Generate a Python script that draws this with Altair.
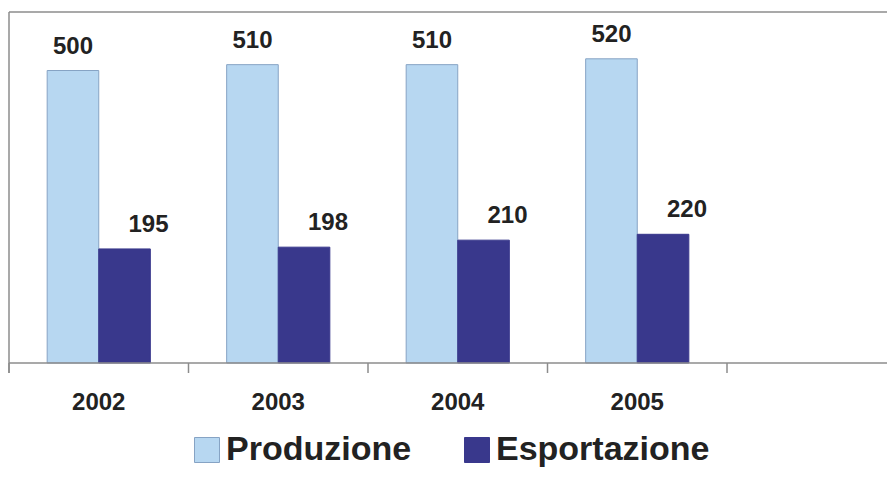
import altair as alt
import pandas as pd

# ---- data ----
YEARS = ["2002", "2003", "2004", "2005"]
SLOTS = YEARS + [" "]  # one empty category slot on the right
SERIES = ["Produzione", "Esportazione"]
PRODUZIONE = [500, 510, 510, 520]
ESPORTAZIONE = [195, 198, 210, 220]

COLORS = ["#b7d7f1", "#39388c"]
STROKES = ["#86a3c4", "#39388c"]

rows = []
for i, y in enumerate(YEARS):
    rows.append({"year": y, "series": SERIES[0], "value": PRODUZIONE[i]})
    rows.append({"year": y, "series": SERIES[1], "value": ESPORTAZIONE[i]})
df = pd.DataFrame(rows)
slots_df = pd.DataFrame({"year": SLOTS})

WIDTH = 878
HEIGHT = 351
FONT = "Liberation Sans"
LINE = "#8c8c8c"

xscale = alt.Scale(domain=SLOTS, range=[0, 897.5], paddingInner=0, paddingOuter=0)
yscale = alt.Scale(domain=[0, 600])
off_scale = alt.Scale(domain=SERIES, paddingInner=0, paddingOuter=0.74)

base = alt.Chart(df)

bars = base.mark_bar(strokeWidth=1).encode(
    x=alt.X("year:N", scale=xscale, sort=SLOTS, title=None,
            axis=alt.Axis(domain=False, ticks=False, labelAngle=0,
                          labelFont=FONT, labelFontSize=24, labelFontWeight="bold",
                          labelColor="#222222", labelPadding=27, grid=False)),
    xOffset=alt.XOffset("series:N", sort=SERIES, scale=off_scale),
    y=alt.Y("value:Q", scale=yscale, axis=None),
    fill=alt.Fill("series:N", sort=SERIES,
                  scale=alt.Scale(domain=SERIES, range=COLORS),
                  legend=alt.Legend(title=None, orient="none", legendX=181, legendY=421,
                                    direction="horizontal", symbolType="square",
                                    symbolSize=625, symbolStrokeColor="#86a3c4",
                                    symbolStrokeWidth=1, labelFont=FONT,
                                    labelFontSize=34, labelFontWeight="bold",
                                    labelColor="#222222", labelOffset=2,
                                    columnPadding=48, padding=0, labelLimit=400)),
    stroke=alt.Stroke("series:N", sort=SERIES,
                      scale=alt.Scale(domain=SERIES, range=STROKES), legend=None),
)

def labels(series_name, dx):
    return base.transform_filter(alt.datum.series == series_name).mark_text(
        baseline="alphabetic", dy=-17, dx=dx, font=FONT, fontSize=24,
        fontWeight="bold", color="#222222"
    ).encode(
        x=alt.X("year:N", scale=xscale, sort=SLOTS, title=None),
        xOffset=alt.XOffset("series:N", sort=SERIES, scale=off_scale),
        y=alt.Y("value:Q", scale=yscale, axis=None),
        text=alt.Text("value:Q"),
    )

text_p = labels("Produzione", 0)
text_e = labels("Esportazione", 24)

ticks = alt.Chart(slots_df).mark_rule(color=LINE, strokeWidth=1.5).encode(
    x=alt.X("year:N", scale=xscale, sort=SLOTS, bandPosition=0, title=None),
    y=alt.value(HEIGHT),
    y2=alt.value(HEIGHT + 10),
)

frame = alt.Chart(slots_df.head(1))
top_line = frame.mark_rule(color=LINE, strokeWidth=1.5).encode(
    x=alt.value(0), x2=alt.value(WIDTH), y=alt.value(0))
left_line = frame.mark_rule(color=LINE, strokeWidth=1.5).encode(
    x=alt.value(0), y=alt.value(0), y2=alt.value(HEIGHT + 10))
base_line = frame.mark_rule(color=LINE, strokeWidth=1.5).encode(
    x=alt.value(0), x2=alt.value(WIDTH), y=alt.value(HEIGHT))

chart = alt.layer(
    bars, text_p, text_e, ticks, top_line, left_line, base_line
).properties(
    width=WIDTH, height=HEIGHT,
    padding={"left": 1, "top": 4, "right": 0, "bottom": 105},
    autosize=alt.AutoSizeParams(type="none"),
    background="white",
).configure_view(stroke=None)

chart.save("out.html", embed_options={"renderer": "svg", "actions": False})
